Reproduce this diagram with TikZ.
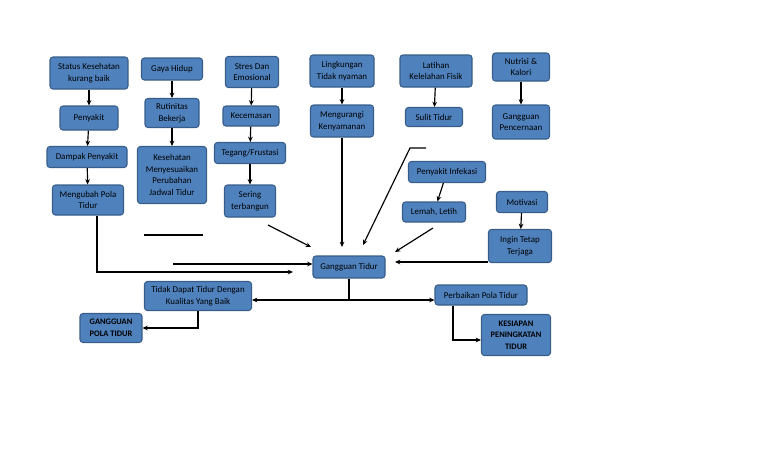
\documentclass[tikz,border=0pt]{standalone}
\usepackage{fontspec}
\setmainfont{Carlito}
\usetikzlibrary{arrows.meta}
\definecolor{boxfill}{HTML}{4F81BD}
\definecolor{boxline}{HTML}{385D8A}

\begin{document}
\begin{tikzpicture}[x=0.03cm,y=-0.03cm,>={Stealth[length=4.5pt,width=4pt]},line width=1pt,
  main node/.style={draw=boxline,fill=boxfill,rounded corners=2.5pt,line width=0.9pt,
    align=center,inner sep=1pt,font=\fontsize{7.6}{10}\selectfont},
  bold node/.style={main node,font=\fontsize{7.2}{10}\selectfont\bfseries}]

            \useasboundingbox (0,0) rectangle (768,466);

            % left columns
            \node[main node, minimum width=78*0.03cm, minimum height=32*0.03cm] (1) at (89,73) {Status Kesehatan\\kurang baik};
            \node[main node, minimum width=58*0.03cm, minimum height=24*0.03cm] (2) at (89,118) {Penyakit};
            \node[main node, minimum width=80*0.03cm, minimum height=21*0.03cm] (3) at (87,157) {Dampak Penyakit};
            \node[main node, minimum width=71*0.03cm, minimum height=30*0.03cm] (4) at (88,200) {Mengubah Pola\\Tidur};

            \node[main node, minimum width=61*0.03cm, minimum height=22*0.03cm] (5) at (172,69) {Gaya Hidup};
            \node[main node, minimum width=54*0.03cm, minimum height=29*0.03cm] (6) at (172,113) {Rutinitas\\Bekerja};
            \node[main node, minimum width=69*0.03cm, minimum height=57*0.03cm] (7) at (172,175) {Kesehatan\\Menyesuaikan\\Perubahan\\Jadwal Tidur};

            \node[main node, minimum width=53*0.03cm, minimum height=31*0.03cm] (8) at (252,72) {Stres Dan\\Emosional};
            \node[main node, minimum width=56*0.03cm, minimum height=20*0.03cm] (9) at (251,116) {Kecemasan};
            \node[main node, minimum width=71*0.03cm, minimum height=21*0.03cm] (10) at (250,153) {Tegang/Frustasi};
            \node[main node, minimum width=51*0.03cm, minimum height=32*0.03cm] (11) at (250,201) {Sering\\terbangun};

            % right columns
            \node[main node, minimum width=64*0.03cm, minimum height=32*0.03cm] (12) at (342,71) {Lingkungan\\Tidak nyaman};
            \node[main node, minimum width=63*0.03cm, minimum height=32*0.03cm] (13) at (342,121) {Mengurangi\\Kenyamanan};

            \node[main node, minimum width=72*0.03cm, minimum height=32*0.03cm] (14) at (436,71) {Latihan\\Kelelahan Fisik};
            \node[main node, minimum width=57*0.03cm, minimum height=19*0.03cm] (15) at (434,117) {Sulit Tidur};

            \node[main node, minimum width=57*0.03cm, minimum height=28*0.03cm] (16) at (521,67) {Nutrisi \&\\Kalori};
            \node[main node, minimum width=57*0.03cm, minimum height=34*0.03cm] (17) at (521,122) {Gangguan\\Pencernaan};

            \node[main node, minimum width=77*0.03cm, minimum height=21*0.03cm] (18) at (447,172) {Penyakit Infekasi};
            \node[main node, minimum width=63*0.03cm, minimum height=20*0.03cm] (19) at (434,212) {Lemah, Letih};

            \node[main node, minimum width=51*0.03cm, minimum height=21*0.03cm] (20) at (522,202) {Motivasi};
            \node[main node, minimum width=63*0.03cm, minimum height=33*0.03cm] (21) at (520,246) {Ingin Tetap\\Terjaga};

            % centre and results
            \node[main node, minimum width=72*0.03cm, minimum height=22*0.03cm] (22) at (349,267) {Gangguan Tidur};
            \node[main node, minimum width=107*0.03cm, minimum height=29*0.03cm] (23) at (198,296) {Tidak Dapat Tidur Dengan\\Kualitas Yang Baik};
            \node[bold node, minimum width=62*0.03cm, minimum height=29*0.03cm] (24) at (111,328) {GANGGUAN\\POLA TIDUR};
            \node[main node, minimum width=92*0.03cm, minimum height=20*0.03cm] (25) at (481,295) {Perbaikan Pola Tidur};
            \node[bold node, minimum width=69*0.03cm, minimum height=41*0.03cm] (26) at (516,335) {KESIAPAN\\PENINGKATAN\\TIDUR};

            \coordinate (a1) at (293,272);
            \coordinate (a2) at (173,264);
            \coordinate (a3) at (144,235);
            \coordinate (a4) at (203,235);
            \coordinate (a5) at (268,225);
            \coordinate (a6) at (311,247);
            \coordinate (a7) at (426,148);
            \coordinate (a8) at (410,148);
            \coordinate (a9) at (363,245);
            \coordinate (a10) at (433,228);
            \coordinate (a11) at (395,252);
            \coordinate (a12) at (349,300);

            \draw[->] (1) to (2);
            \draw[->] (2) to (3);
            \draw[->] (3) to (4);
            \draw[->] (5) to (6);
            \draw[->] (6) to (7);
            \draw[->] (8) to (9);
            \draw[->] (9) to (10);
            \draw[->] (10) to (11);
            \draw[->] (12) to (13);
            \draw[->] (14) to (15);
            \draw[->] (16) to (17);
            \draw[->] (18) to (19);
            \draw[->] (20) to (21);

            \draw[->] (4.south -| 97,0) |- (a1);
            \draw[->] (a2) to (22.west |- a2);
            \draw (a3) to (a4);
            \draw[->] (a5) to (a6);
            \draw[->] (13.south) to (13.south |- a6);
            \draw[->] (a7) -- (a8) -- (a9);
            \draw[->] (a10) to (a11);
            \draw[->] (21.west |- 0,262) to (395,262);

            \draw (22) to (a12);
            \draw[<->] (23.east |- a12) to (25.west |- a12);
            \draw[->] (23.south) |- (24.east);
            \draw[->] (25.south -| 453,0) |- (26.west |- 0,340);

        \end{tikzpicture}
\end{document}
